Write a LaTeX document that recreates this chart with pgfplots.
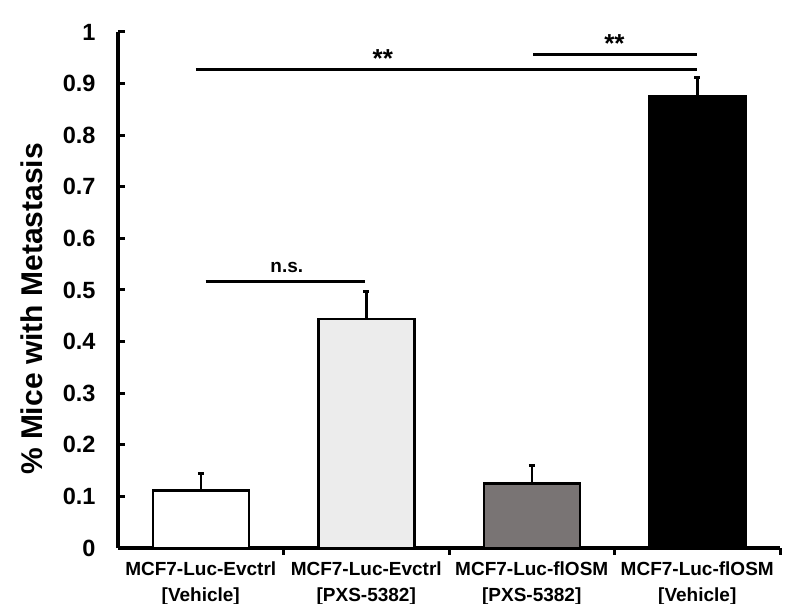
\documentclass[border=0pt]{standalone}
\usepackage{pgfplots}
\pgfplotsset{compat=1.18}
\usepackage{fontspec}
\setmainfont{Liberation Sans}
\definecolor{lgray}{RGB}{236,236,236}
\definecolor{dgray}{RGB}{121,116,116}
\begin{document}
\begin{tikzpicture}
\useasboundingbox (0,0) rectangle (786bp,604bp);
\begin{axis}[
  at={(118bp,56bp)}, anchor=south west,
  scale only axis, width=662bp, height=516bp,
  xmin=-0.5, xmax=3.5, ymin=0, ymax=1,
  axis x line=bottom, axis y line=left,
  axis line style={-, line width=3.5bp},
  tick align=inside,
  tick style={black, line width=3bp},
  xtick={0,1,2,3},
  xticklabels={{MCF7-Luc-Evctrl\\{[}Vehicle{]}},{MCF7-Luc-Evctrl\\{[}PXS-5382{]}},{MCF7-Luc-flOSM\\{[}PXS-5382{]}},{MCF7-Luc-flOSM\\{[}Vehicle{]}}},
  major x tick style={draw=none},
  minor xtick={0.5,1.5,2.5,3.5},
  minor tick length=7bp,
  ytick={0,0.1,...,1.01},
  major tick length=7bp,
  /pgf/number format/assume math mode=true,
  yticklabel style={font=\fontsize{23.5bp}{28bp}\selectfont\bfseries, xshift=-19bp},
  xticklabel style={font=\fontsize{19bp}{26bp}\selectfont\bfseries, align=center, yshift=-3bp},
  ylabel={\% Mice with Metastasis},
  ylabel style={font=\fontsize{30bp}{34bp}\selectfont\bfseries, at={(axis description cs:-0.13,0.463)}, anchor=center},
  ybar, bar width=96bp, bar shift=0pt,
  clip=false,
  error bars/y dir=plus, error bars/y explicit,
  error bars/error bar style={line width=2.5bp},
  error bars/error mark options={line width=2.5bp, mark size=3bp, rotate=90},
]
\addplot[draw=black, line width=2.5bp, fill=white] coordinates {(0,0.111) +- (0,0.033)};
\addplot[draw=black, line width=2.5bp, fill=lgray] coordinates {(1,0.444) +- (0,0.053)};
\addplot[draw=black, line width=2.5bp, fill=dgray] coordinates {(2,0.125) +- (0,0.035)};
\addplot[draw=black, line width=2.5bp, fill=black] coordinates {(3,0.875) +- (0,0.037)};
\draw[line width=3bp] (axis cs:-0.03,0.928) -- (axis cs:3.0,0.928);
\draw[line width=3bp] (axis cs:2.01,0.957) -- (axis cs:3.0,0.957);
\draw[line width=3bp] (axis cs:0.03,0.517) -- (axis cs:0.99,0.517);
\node[font=\fontsize{26bp}{30bp}\selectfont\bfseries] at (axis cs:1.1,0.948) {**};
\node[font=\fontsize{26bp}{30bp}\selectfont\bfseries] at (axis cs:2.5,0.977) {**};
\node[font=\fontsize{19bp}{22bp}\selectfont\bfseries] at (axis cs:0.52,0.543) {n.s.};
\end{axis}
\end{tikzpicture}
\end{document}
